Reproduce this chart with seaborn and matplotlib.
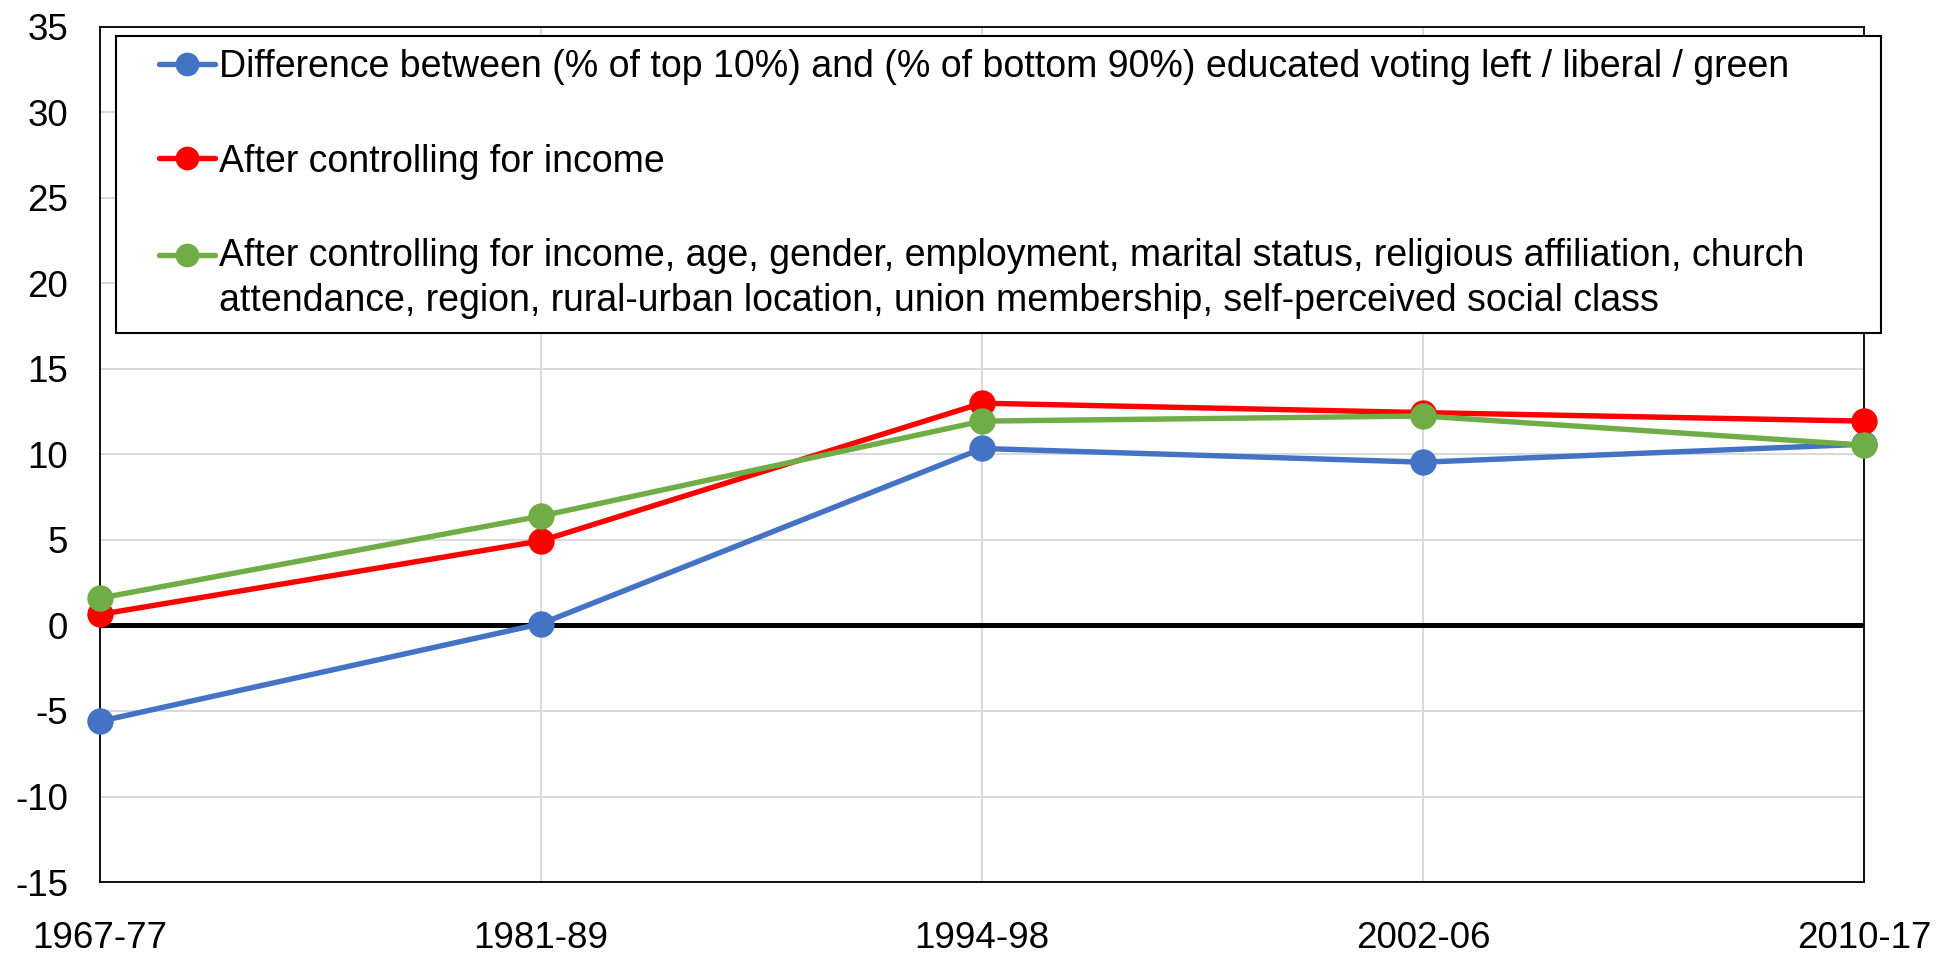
import pandas as pd
import seaborn as sns
import matplotlib.pyplot as plt
from matplotlib.legend_handler import HandlerLine2D

# Periods and the three series (percentage-point gaps).
periods = ['1967-77', '1981-89', '1994-98', '2002-06', '2010-17']
raw_gap = [-5.6, 0.1, 10.35, 9.55, 10.6]
income_ctrl = [0.65, 4.95, 13.0, 12.45, 11.95]
all_ctrl = [1.6, 6.4, 11.95, 12.25, 10.55]

labels = [
    'Difference between (% of top 10%) and (% of bottom 90%) educated voting left / liberal / green',
    'After controlling for income',
    'After controlling for income, age, gender, employment, marital status, religious affiliation, church\n'
    'attendance, region, rural-urban location, union membership, self-perceived social class',
]
colors = ['#4472C4', '#FF0000', '#70AD47']

df = pd.concat([
    pd.DataFrame({'period': periods, 'value': vals, 'series': lab})
    for vals, lab in zip([raw_gap, income_ctrl, all_ctrl], labels)
])

sns.set_theme(style='white')
plt.rcParams['font.family'] = ['Liberation Sans', 'DejaVu Sans']
plt.rcParams['axes.unicode_minus'] = False
plt.rcParams['text.color'] = 'black'

fig = plt.figure(figsize=(19.53, 9.56), dpi=100)
ax = fig.add_axes([0.0512, 0.0774, 0.9032, 0.8944])

sns.lineplot(data=df, x='period', y='value', hue='series', palette=colors,
             marker='o', markersize=19, markeredgewidth=0, linewidth=3.9,
             legend=False, ax=ax)
series_lines = list(ax.lines[:3])
for ln in series_lines:
    ln.set_clip_on(False)
    ln.set_zorder(3)

ax.axhline(0, color='black', linewidth=3.6, zorder=2)

ax.set_xlim(0, len(periods) - 1)
ax.set_ylim(-15, 35)
ax.set_yticks(range(-15, 36, 5))
ax.set_xticks(range(len(periods)))
ax.set_xticklabels(periods)
ax.set_xlabel('')
ax.set_ylabel('')
ax.grid(True, color='#d9d9d9', linewidth=1.4)
ax.set_axisbelow(True)
for s in ax.spines.values():
    s.set_color('black')
    s.set_linewidth(1.3)
ax.tick_params(axis='both', length=0, labelsize=26.5, colors='black')
ax.tick_params(axis='x', pad=28)
ax.tick_params(axis='y', pad=23)


class ShiftedLine(HandlerLine2D):
    def __init__(self, dx, dy=0, **kw):
        super().__init__(**kw)
        self.dx = dx
        self.dy = dy

    def create_artists(self, legend, orig_handle, xdescent, ydescent,
                       width, height, fontsize, trans):
        return super().create_artists(legend, orig_handle, xdescent - self.dx,
                                      ydescent - 2 * self.dy, width - self.dx,
                                      height, fontsize, trans)


fs = 27
dx = 21.5
handler_map = {
    series_lines[0]: ShiftedLine(dx),
    series_lines[1]: ShiftedLine(dx),
    series_lines[2]: ShiftedLine(dx, dy=17.5),
}
leg = ax.legend(series_lines, labels, handler_map=handler_map,
                loc='upper left', bbox_to_anchor=(0.009, 0.0, 1.0006, 0.9895),
                mode='expand', borderaxespad=0, fontsize=fs, frameon=True,
                fancybox=False, edgecolor='black', framealpha=1,
                handlelength=(dx + 40) / fs, handletextpad=0.12,
                labelspacing=1.55, borderpad=0.36, markerscale=0.9,
                labelcolor='black')
leg.get_frame().set_linewidth(1.5)
leg.get_texts()[2].set_linespacing(1.35)
leg.set_zorder(5)

fig.savefig('out.png', dpi=100)
